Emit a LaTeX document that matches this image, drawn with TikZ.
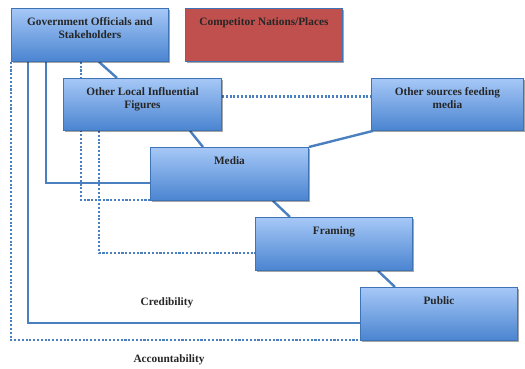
\documentclass[tikz,border=0pt]{standalone}
\usepackage{fontspec}
\setmainfont{Liberation Serif}
\usetikzlibrary{shadows,backgrounds}
\definecolor{lineblue}{HTML}{4A7FC0}
\definecolor{topblue}{HTML}{A6C8F7}
\definecolor{botblue}{HTML}{4A84D0}
\definecolor{boxborder}{HTML}{3E74B6}
\definecolor{redfill}{HTML}{C0504D}
\definecolor{txt}{HTML}{262626}
\begin{document}
\begin{tikzpicture}[x=1pt,y=-1pt,
  boxbase/.style={draw=boxborder, line width=0.9pt, anchor=north west, inner sep=0pt,
    drop shadow={shadow xshift=1.2pt, shadow yshift=-1.5pt, opacity=0.35, fill=black}},
  bluebox/.style={boxbase, top color=topblue, bottom color=botblue},
  redbox/.style={boxbase, fill=redfill},
  boxtext/.style={anchor=north, yshift=-6pt, align=center, font=\fontsize{11.3}{13.5}\selectfont\bfseries, text=txt},
  conn/.style={draw=lineblue, line width=2.4pt},
  dotconn/.style={draw=lineblue, line width=2.4pt, dash pattern=on 2.1pt off 1.7pt},
  plain/.style={font=\fontsize{11.3}{13}\selectfont\bfseries, text=txt}]
\useasboundingbox (0,0) rectangle (525,369);
\node[bluebox, minimum width=157pt, minimum height=53pt,
  label={[boxtext, name=govt]north:Government Officials and\\Stakeholders}] (gov) at (11,8) {};
\node[redbox, minimum width=157pt, minimum height=53pt,
  label={[boxtext, name=compt]north:Competitor Nations/Places}] (comp) at (185,8) {};
\node[bluebox, minimum width=158pt, minimum height=52pt,
  label={[boxtext, name=olft]north:Other Local Influential\\Figures}] (olf) at (63,78) {};
\node[bluebox, minimum width=152pt, minimum height=52pt,
  label={[boxtext, name=ost]north:Other sources feeding\\media}] (os) at (371,78) {};
\node[bluebox, minimum width=158pt, minimum height=53pt,
  label={[boxtext, name=mediat]north:Media}] (media) at (150,147) {};
\node[bluebox, minimum width=157pt, minimum height=53pt,
  label={[boxtext, name=framt]north:Framing}] (framing) at (255,217) {};
\node[bluebox, minimum width=157pt, minimum height=53pt,
  label={[boxtext, name=pubt]north:Public}] (public) at (360,287) {};
\node[plain] (cred) at (167,303) {Credibility};
\node[plain] (acc) at (169,360) {Accountability};
\begin{scope}[on background layer]
\draw[conn] ([xshift=88pt]gov.south west) -- ([xshift=54pt]olf.north west);
\draw[conn] ([xshift=127pt]olf.south west) -- ([xshift=53pt]media.north west);
\draw[conn] (media.north east) -- ([xshift=2pt]os.south west);
\draw[conn] ([xshift=123pt]media.south west) -- ([xshift=35pt]framing.north west);
\draw[conn] ([xshift=123pt]framing.south west) -- ([xshift=35pt]public.north west);
\draw[conn] ([xshift=35pt]gov.south west) |- ([yshift=18pt]media.south west);
\draw[conn] ([xshift=17pt]gov.south west) |- ([yshift=18pt]public.south west);
\draw[dotconn] (gov.south west) |- ([yshift=1pt]public.south west);
\draw[dotconn] ([xshift=70pt]gov.south west) |- ([yshift=1pt]media.south west);
\draw[dotconn] ([xshift=36pt]olf.south west) |- ([yshift=18pt]framing.south west);
\draw[dotconn] ([yshift=8pt]olf.east) -- ([yshift=8pt]os.west);
\end{scope}
\end{tikzpicture}
\end{document}
